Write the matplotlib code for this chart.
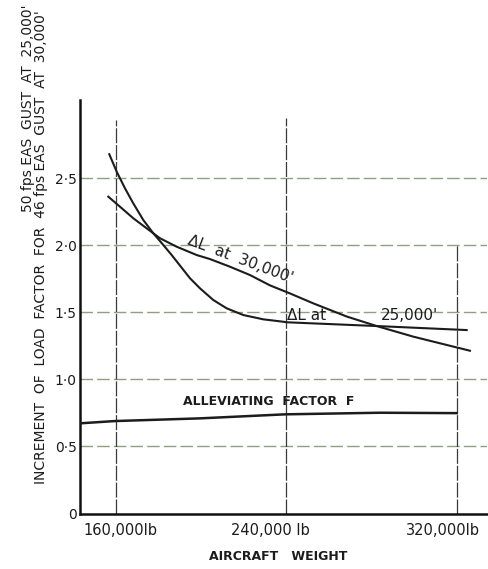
import numpy as np
from matplotlib import pyplot as plt
from matplotlib import transforms

# aircraft weight (lb) and increment of load factor
weight_25k = [156850, 160330, 164230, 168120, 172820, 177510, 182210, 186150, 194740, 199440,
              205680, 211970, 219770, 229150, 238540, 240140, 282390, 324650]
dl_25k = [2.677, 2.547, 2.423, 2.311, 2.187, 2.088, 2.001, 1.926, 1.753, 1.678,
          1.591, 1.529, 1.479, 1.447, 1.429, 1.425, 1.397, 1.367]

weight_30k = [156380, 161880, 168120, 174410, 180660, 188500, 197890, 204130, 213520, 222910,
              232300, 241690, 252630, 268310, 282390, 299580, 326200]
dl_30k = [2.361, 2.286, 2.200, 2.125, 2.051, 1.988, 1.926, 1.896, 1.839, 1.777,
          1.700, 1.640, 1.566, 1.468, 1.397, 1.318, 1.213]

weight_f = [143100, 159500, 199400, 239300, 283900, 320000]
factor_f = [0.672, 0.689, 0.709, 0.739, 0.751, 0.748]

ytick_vals = [0, 0.5, 1.0, 1.5, 2.0, 2.5]
ytick_labels = ['0', '0·5', '1·0', '1·5', '2·0', '2·5']
xtick_vals = [160000, 240000, 320000]
xtick_labels = ['160,000lb', '240,000 lb', '320,000lb']
xlabel_pos = [162300, 232500, 313500]
vgrid_top = [2.93, 2.95, 2.0]

ink = '#1c1c1c'
grid_green = '#8f9f7f'

fig = plt.figure(figsize=(4.89, 5.69), dpi=100)
ax = fig.add_axes([0.1636, 0.0975, 0.8323, 0.7267])

ax.set_xlim(143100, 334200)
ax.set_ylim(0, 3.081)

# horizontal grid (dashed, greenish from the scan)
for yv in ytick_vals[1:]:
    ax.axhline(yv, color=grid_green, lw=1.0, ls=(0, (9, 3)), zorder=1)
# vertical grid lines, each with its own height
ax.vlines(xtick_vals, 0, vgrid_top, colors='#3a3a3a', lw=0.9, linestyles=[(0, (12, 1.5))], zorder=1)

ax.plot(weight_25k, dl_25k, color=ink, lw=1.5, zorder=3)
ax.plot(weight_30k, dl_30k, color=ink, lw=1.5, zorder=3)
ax.plot(weight_f, factor_f, color=ink, lw=1.8, zorder=3)

for side in ['top', 'right']:
    ax.spines[side].set_visible(False)
for side in ['left', 'bottom']:
    ax.spines[side].set_linewidth(1.8)
    ax.spines[side].set_color('#111111')

ax.set_yticks(ytick_vals)
ax.set_yticklabels(ytick_labels, fontsize=10, color=ink)
ax.tick_params(axis='y', length=0, pad=2.5)
ax.set_xticks([])

trans = transforms.blended_transform_factory(ax.transData, ax.transAxes)
for xp, lab in zip(xlabel_pos, xtick_labels):
    ax.text(xp, -0.040, lab, transform=trans, ha='center', va='center', fontsize=10.5, color=ink)

# curve labels
ax.text(218500, 1.895, "ΔL  at  30,000'", rotation=-20.5, ha='center', va='center',
        fontsize=11, color=ink, rotation_mode='anchor')
ax.text(249500, 1.472, 'ΔL at', ha='center', va='center', fontsize=11, color=ink)
ax.text(298000, 1.479, "25,000'", ha='center', va='center', fontsize=11, color=ink)
ax.text(231800, 0.831, 'ALLEVIATING  FACTOR  F', ha='center', va='center', fontsize=9,
        fontweight='bold', color=ink)

fig.text(278 / 489, 1 - 557 / 569, 'AIRCRAFT   WEIGHT', ha='center', va='center', fontsize=9,
         fontweight='bold', color=ink)

# two-line y label, rotated
fig.text(28 / 489, 1 - 5 / 569, "50 fps EAS  GUST  AT  25,000'", rotation=90, ha='center', va='top',
         fontsize=10, color=ink)
fig.text(41 / 489, 1 - 10 / 569, "INCREMENT  OF  LOAD  FACTOR  FOR  46 fps EAS  GUST  AT  30,000'",
         rotation=90, ha='center', va='top', fontsize=10, color=ink)

plt.savefig('out.png', dpi=100)
